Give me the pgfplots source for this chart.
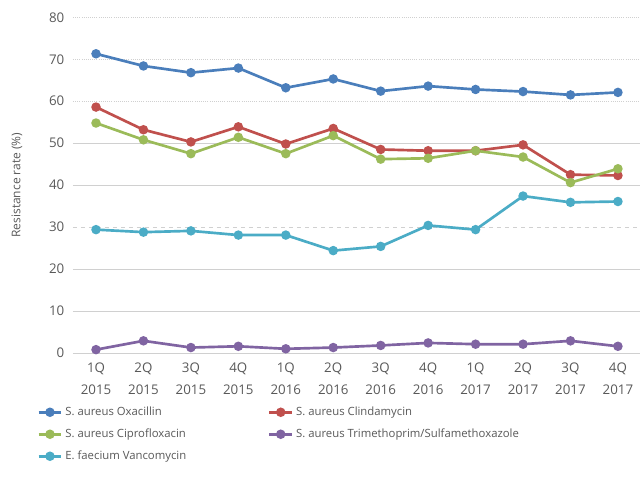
\documentclass[border=0pt]{standalone}
\usepackage{fontspec}
\setmainfont{Open Sans}
\usepackage{pgfplots}
\pgfplotsset{compat=1.18}
\definecolor{cOxa}{HTML}{4A7EBB}
\definecolor{cCli}{HTML}{C0504D}
\definecolor{cCip}{HTML}{9BBB59}
\definecolor{cTmp}{HTML}{8064A2}
\definecolor{cVan}{HTML}{4BACC6}
\definecolor{txt}{HTML}{595959}
\definecolor{grd}{HTML}{D0D0D0}
\begin{document}
\begin{tikzpicture}
\begin{axis}[
  scale only axis,
  width=425.25pt, height=251.8pt,
  xmin=-0.485, xmax=11.465, ymin=0, ymax=80,
  axis line style={draw=none},
  tick style={draw=none},
  clip=false,
  /pgf/number format/assume math mode=true,
  xtick={0,...,11},
  xticklabels={1Q\\2015,2Q\\2015,3Q\\2015,4Q\\2015,1Q\\2016,2Q\\2016,3Q\\2016,4Q\\2016,1Q\\2017,2Q\\2017,3Q\\2017,4Q\\2017},
  xticklabel style={align=center, font=\fontsize{10}{16.5}\selectfont, text=txt, yshift=-4pt},
  ytick={0,10,...,80},
  yticklabel style={font=\fontsize{10}{12}\selectfont, text=txt, xshift=-3pt},
  major tick length=0pt,
  ylabel={Resistance rate (\%)},
  ylabel style={at={(axis description cs:-0.099,0.5)}, anchor=center, font=\fontsize{9}{11}\selectfont, text=txt},
  every axis plot/.append style={line width=2pt, mark=*, mark size=2.5pt},
  legend columns=2,
  legend style={draw=none, at={(axis description cs:-0.0635,-0.152)}, anchor=north west,
    font=\fontsize{8.5}{10}\selectfont, text=txt, cells={anchor=west},
    row sep=4.5pt, inner sep=0pt},
]
\draw[grd, line width=0.6pt] (axis cs:-0.485,0) -- (axis cs:11.465,0);
\draw[grd, line width=0.6pt] (axis cs:-0.485,10) -- (axis cs:11.465,10);
\draw[grd, line width=0.6pt] (axis cs:-0.485,20) -- (axis cs:11.465,20);
\draw[grd, line width=0.6pt, dashed] (axis cs:-0.485,30) -- (axis cs:11.465,30);
\draw[grd, line width=0.6pt] (axis cs:-0.485,40) -- (axis cs:11.465,40);
\draw[grd, line width=0.6pt] (axis cs:-0.485,50) -- (axis cs:11.465,50);
\draw[grd, line width=0.6pt, densely dotted] (axis cs:-0.485,60) -- (axis cs:11.465,60);
\draw[grd, line width=0.6pt, densely dotted] (axis cs:-0.485,70) -- (axis cs:11.465,70);
\draw[grd, line width=0.6pt, densely dotted] (axis cs:-0.485,80) -- (axis cs:11.465,80);
\addplot[color=cOxa] coordinates {(0,71.3)(1,68.4)(2,66.8)(3,67.9)(4,63.2)(5,65.3)(6,62.4)(7,63.6)(8,62.8)(9,62.3)(10,61.5)(11,62.1)};
\addlegendentry{\makebox[150pt][l]{S. aureus Oxacillin}}
\addplot[color=cCli] coordinates {(0,58.6)(1,53.2)(2,50.3)(3,53.9)(4,49.8)(5,53.5)(6,48.5)(7,48.2)(8,48.2)(9,49.6)(10,42.5)(11,42.3)};
\addlegendentry{S. aureus Clindamycin}
\addplot[color=cCip] coordinates {(0,54.8)(1,50.8)(2,47.5)(3,51.4)(4,47.5)(5,51.8)(6,46.2)(7,46.4)(8,48.2)(9,46.7)(10,40.6)(11,43.9)};
\addlegendentry{\makebox[150pt][l]{S. aureus Ciprofloxacin}}
\addplot[color=cTmp] coordinates {(0,0.8)(1,2.9)(2,1.3)(3,1.6)(4,1.0)(5,1.3)(6,1.8)(7,2.4)(8,2.1)(9,2.1)(10,2.9)(11,1.6)};
\addlegendentry{S. aureus Trimethoprim/Sulfamethoxazole}
\addplot[color=cVan] coordinates {(0,29.4)(1,28.8)(2,29.1)(3,28.1)(4,28.1)(5,24.4)(6,25.4)(7,30.4)(8,29.4)(9,37.4)(10,35.9)(11,36.1)};
\addlegendentry{E. faecium Vancomycin}
\end{axis}
\pgfresetboundingbox
\path (current axis.south west) ++(-54.75pt,-94.5pt) rectangle ++(480pt,359.25pt);
\end{tikzpicture}
\end{document}
